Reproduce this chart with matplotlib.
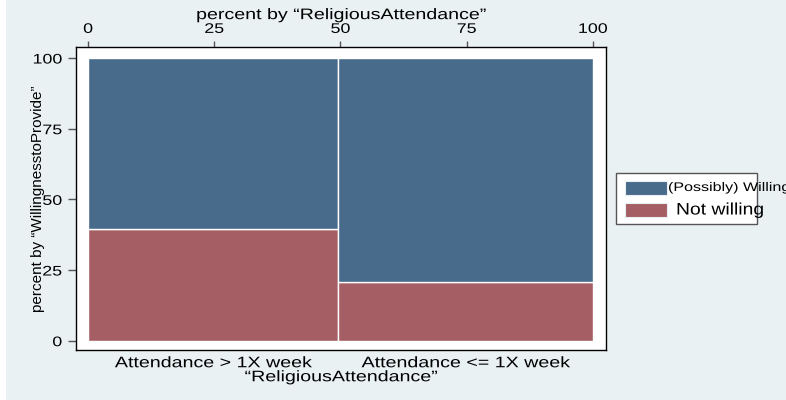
import matplotlib
matplotlib.use("Agg")
import matplotlib.pyplot as plt
from matplotlib.patches import Rectangle
from matplotlib.patheffects import AbstractPathEffect
from matplotlib.transforms import Affine2D

# data
categories = ["Attendance > 1X week", "Attendance <= 1X week"]
col_share = [49.6, 50.4]          # percent by ReligiousAttendance
not_willing = [39.4, 20.9]        # percent by WillingnesstoProvide
series = ["(Possibly) Willing", "Not willing"]
colors = ["#486a8b", "#a55e63"]
xticks = [0, 25, 50, 75, 100]
yticks = [0, 25, 50, 75, 100]

plt.rcParams['font.family'] = ['Liberation Sans', 'DejaVu Sans']

SX = 1.285  # the reference text is stretched horizontally


class Stretch(AbstractPathEffect):
    """widen glyphs horizontally around the text's anchor"""
    def __init__(self, sx=SX, ha="center"):
        super().__init__()
        self.sx = sx
        self.ha = ha

    def draw_path(self, renderer, gc, tpath, affine, rgbFace=None):
        ext = tpath.get_extents()
        if self.ha == "center":
            p = (ext.x0 + ext.x1) / 2
        elif self.ha == "right":
            p = ext.x1
        else:
            p = 0
        t = Affine2D().translate(-p, 0).scale(self.sx, 1).translate(p, 0) + affine
        renderer.draw_path(gc, tpath, t, rgbFace)


fig = plt.figure(figsize=(7.86, 4.0), dpi=100)
fig.patch.set_facecolor("white")
fig.patches.append(Rectangle((6 / 786, 0), 1, 1, transform=fig.transFigure,
                             facecolor="#eaf1f3", edgecolor="none", zorder=-10))

ax = fig.add_axes([76 / 786, 50 / 400, 530 / 786, 303 / 400])
ax.set_facecolor("white")

left = 0
for i, cat in enumerate(categories):
    w = col_share[i]
    nw = not_willing[i]
    ax.bar(left, nw, width=w, bottom=0, align="edge", color=colors[1],
           edgecolor="white", linewidth=1)
    ax.bar(left, 100 - nw, width=w, bottom=nw, align="edge", color=colors[0],
           edgecolor="white", linewidth=1)
    left += w

ax.set_xlim(-2.4, 102.6)
ax.set_ylim(-3.3, 103.9)

# bottom: category labels at column centers
centers = [col_share[0] / 2, col_share[0] + col_share[1] / 2]
ax.set_xticks(centers)
ax.set_xticklabels(categories, fontsize=11)
ax.tick_params(axis="x", bottom=False, top=False, pad=1)
ax.set_xlabel("\u201cReligiousAttendance\u201d", fontsize=11, labelpad=0)

# top axis with percentages
top = ax.secondary_xaxis("top")
top.set_xticks(xticks)
top.set_xticklabels([str(t) for t in xticks], fontsize=10)
top.tick_params(axis="x", length=4, width=1, color="#555555", pad=4)
top.spines["top"].set_visible(False)
top.set_xlabel("percent by \u201cReligiousAttendance\u201d", fontsize=11, labelpad=2)

ax.set_yticks(yticks)
ax.set_yticklabels([str(t) for t in yticks], fontsize=10)
ax.tick_params(axis="y", length=6, width=1, color="#555555", pad=4)
ax.set_ylabel("percent by \u201cWillingnesstoProvide\u201d", fontsize=11)
ax.yaxis.set_label_coords(-0.058, 0.5)

for s in ax.spines.values():
    s.set_color("black")
    s.set_linewidth(1)

for lab in ax.get_xticklabels() + top.get_xticklabels():
    lab.set_path_effects([Stretch(ha="center")])
for lab in ax.get_yticklabels():
    lab.set_path_effects([Stretch(ha="right")])
ax.xaxis.label.set_path_effects([Stretch(ha="center")])
top.xaxis.label.set_path_effects([Stretch(ha="center")])

# legend box
fig.patches.append(Rectangle((616 / 786, 1 - 224 / 400), 141 / 786, 51 / 400,
                             transform=fig.transFigure, facecolor="white",
                             edgecolor="#555555", linewidth=1))
sw_y = [1 - 195 / 400, 1 - 217 / 400]
sizes = [9, 12]
text_x = [668, 676]
text_sx = [SX, 1.16]
for i, lab in enumerate(series):
    fig.patches.append(Rectangle((625 / 786, sw_y[i]), 42 / 786, 14 / 400,
                                 transform=fig.transFigure, facecolor=colors[i],
                                 edgecolor="#e8eef3", linewidth=0.8))
    t = fig.text(text_x[i] / 786, sw_y[i] + 7 / 400, lab,
                 fontsize=sizes[i], va="center", ha="left")
    t.set_path_effects([Stretch(text_sx[i], ha="left")])

fig.savefig("out.png", dpi=100)
